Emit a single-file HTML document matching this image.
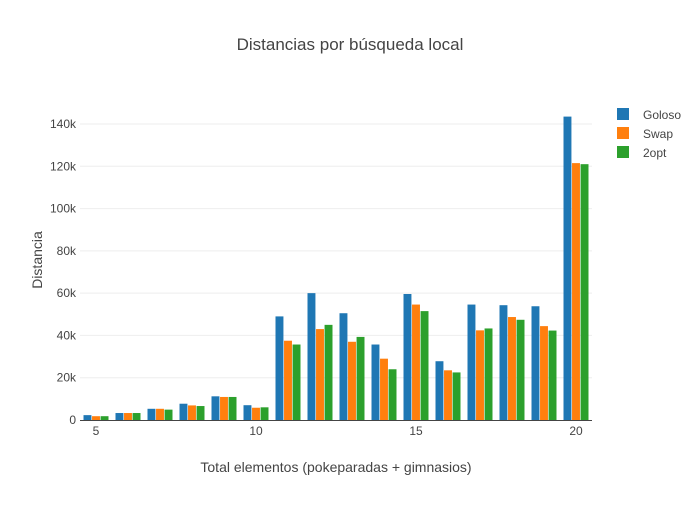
<!DOCTYPE html>
<html><head><meta charset="utf-8"><style>
body{margin:0;background:#fff;font-family:"Liberation Sans","DejaVu Sans",sans-serif}
</style></head><body>
<svg id="c" width="700" height="500" xmlns="http://www.w3.org/2000/svg">
<text x="350" y="50" text-anchor="middle" font-size="17" fill="#444">Distancias por búsqueda local</text>
<text x="336" y="472" text-anchor="middle" font-size="14" fill="#444">Total elementos (pokeparadas + gimnasios)</text>
<text transform="translate(42,260) rotate(-90)" text-anchor="middle" font-size="14" fill="#444">Distancia</text>
<g id="grid"></g><g id="bars"></g><g id="axes"></g><g id="legend"></g>
</svg>
<script>
const categories=[5,6,7,8,9,10,11,12,13,14,15,16,17,18,19,20];
const goloso=[2300,3300,5300,7700,11200,7000,49000,60000,50500,35700,59600,27800,54600,54300,53800,143500];
const swap=[1800,3300,5300,6900,10900,5800,37500,43000,37000,29000,54600,23500,42400,48700,44400,121500];
const twoopt=[1800,3300,4900,6600,10900,6000,35700,45000,39300,24000,51500,22500,43300,47400,42300,121000];
const seriesNames=['Goloso','Swap','2opt'];
const colors=['#1f77b4','#ff7f0e','#2ca02c'];
const yTicks=[0,20000,40000,60000,80000,100000,120000,140000];
const yTickLabels=['0','20k','40k','60k','80k','100k','120k','140k'];
const xTicks=[5,10,15,20];
const NS='http://www.w3.org/2000/svg';
const x=v=>80+(v-4.5)*(512/16);
const y=v=>420-v*(296/140000);
function mk(tag,attrs,parent,text){const e=document.createElementNS(NS,tag);for(const k in attrs)e.setAttribute(k,attrs[k]);if(text!==undefined)e.textContent=text;document.getElementById(parent).appendChild(e);return e;}
yTicks.forEach((t,i)=>{
  if(t>0){const g=mk('line',{x1:80,x2:592,y1:y(t),y2:y(t),stroke:'#eee','stroke-width':1},'grid');
  
  }
  const l=mk('text',{x:76,y:y(t)+4,'text-anchor':'end','font-size':12,fill:'#444'},'axes',yTickLabels[i]);
  
  
});
const ax=mk('line',{x1:80,x2:592,y1:420.5,y2:420.5,stroke:'#444','stroke-width':1},'axes');


xTicks.forEach(t=>{
  const l=mk('text',{x:x(t),y:435,'text-anchor':'middle','font-size':12,fill:'#444'},'axes',String(t));
  
  
});
const all=[goloso,swap,twoopt];
const bw=32*0.8/3;
categories.forEach((c,i)=>{
  all.forEach((s,j)=>{
    const x0=x(c)-1.5*bw+j*bw;
    const r=mk('rect',{x:x0+0.3,y:y(s[i]),width:bw-0.6,height:420-y(s[i]),fill:colors[j]},'bars');
    
    
  });
});
seriesNames.forEach((n,j)=>{
  const r=mk('rect',{x:617,y:108+j*19,width:12,height:12,fill:colors[j]},'legend');
  
  
  const t=mk('text',{x:643,y:119+j*19,'font-size':12,fill:'#444'},'legend',n);
  
  
});
</script>
</body></html>
